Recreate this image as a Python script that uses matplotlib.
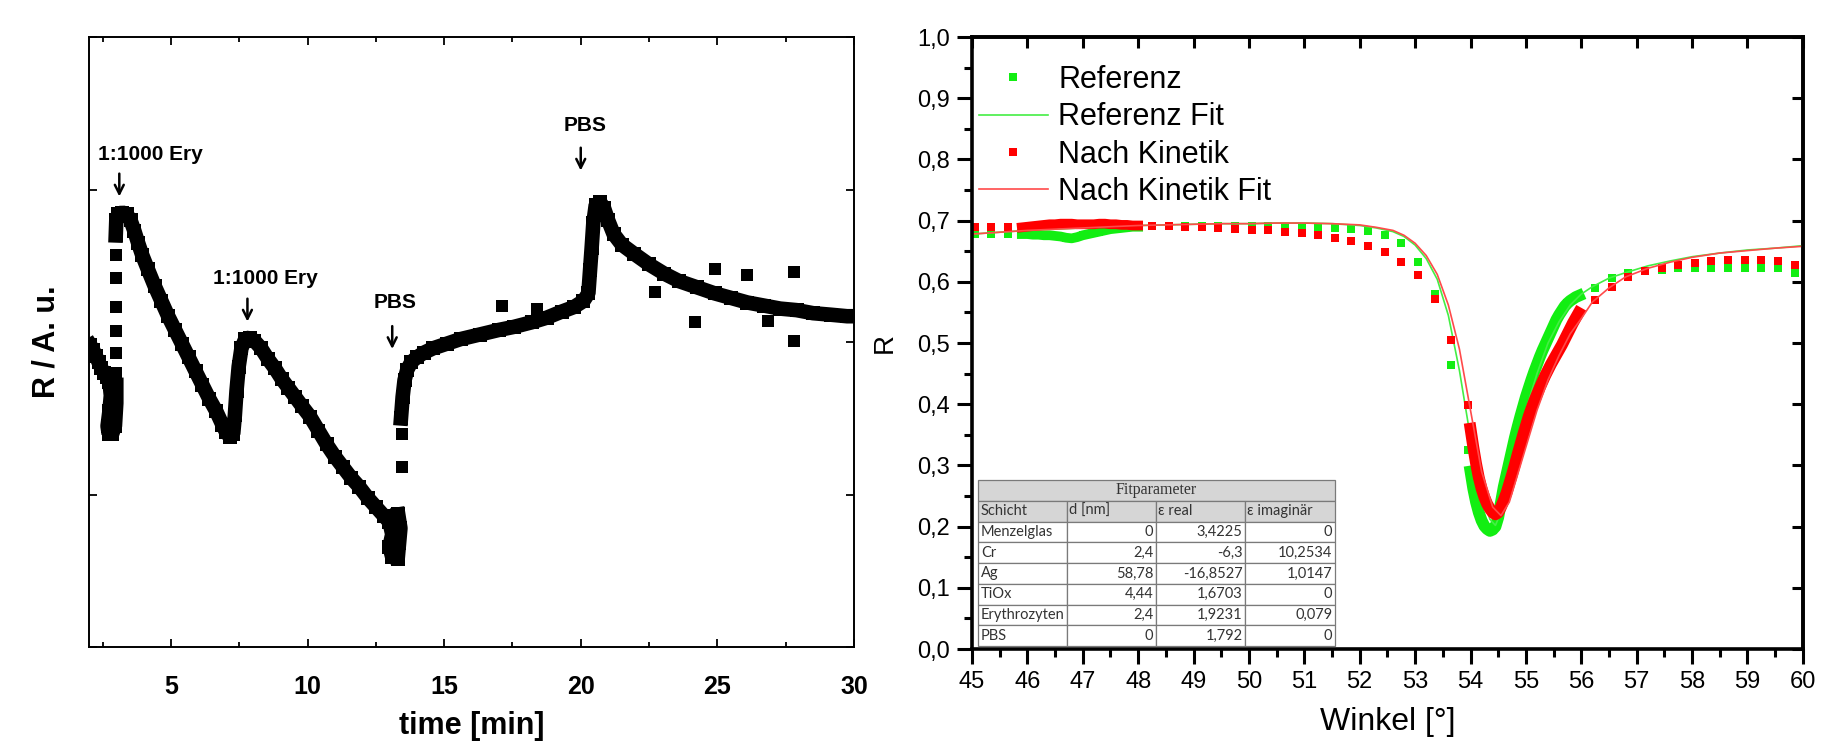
import matplotlib
matplotlib.use('Agg')
import matplotlib.pyplot as plt
from matplotlib.lines import Line2D
from matplotlib.patches import Rectangle
from matplotlib.ticker import MultipleLocator, FuncFormatter, NullLocator

plt.rcParams['font.family'] = ['Liberation Sans', 'DejaVu Sans']

# ---------------- left panel data (time [min], R [a.u.]) ----------------
t_seg1 = [2.05, 2.15, 2.25, 2.35, 2.45, 2.55, 2.65, 2.75, 2.80, 2.75, 2.68, 2.72, 2.85, 2.95, 3.00, 3.00]
r_seg1 = [1.98, 1.95, 1.91, 1.87, 1.83, 1.80, 1.77, 1.74, 1.65, 1.55, 1.45, 1.40, 1.40, 1.45, 1.60, 1.72]
t_jump1 = [2.98, 2.98, 2.98, 2.98, 2.98, 2.98]
r_jump1 = [1.80, 1.93, 2.07, 2.23, 2.42, 2.57]
t_seg2 = [2.98, 3.00, 3.08, 3.22, 3.38, 3.52, 3.66, 3.80, 3.95, 4.15, 4.40, 4.65, 4.90, 5.15, 5.40,
          5.65, 5.90, 6.15, 6.40, 6.65, 6.88, 7.02, 7.15, 7.28, 7.34, 7.40, 7.48, 7.58, 7.72, 7.88,
          8.05, 8.30, 8.55, 8.80, 9.05, 9.30, 9.55, 9.80, 10.10, 10.40, 10.70, 11.00, 11.30, 11.60,
          11.90, 12.20, 12.50, 12.80, 13.00, 13.10, 13.00, 13.10, 13.30, 13.35, 13.40, 13.32]
r_seg2 = [2.70, 2.80, 2.84, 2.85, 2.84, 2.80, 2.73, 2.65, 2.57, 2.48, 2.37, 2.27, 2.17, 2.08, 1.99,
          1.90, 1.81, 1.72, 1.63, 1.55, 1.46, 1.41, 1.38, 1.40, 1.52, 1.68, 1.84, 1.96, 2.02, 2.03,
          2.01, 1.96, 1.89, 1.83, 1.76, 1.70, 1.64, 1.58, 1.51, 1.42, 1.33, 1.25, 1.18, 1.11,
          1.05, 0.98, 0.92, 0.86, 0.82, 0.74, 0.66, 0.59, 0.58, 0.68, 0.78, 0.87]
t_jump2 = [13.45, 13.45]
r_jump2 = [1.18, 1.40]
t_seg3 = [13.42, 13.48, 13.55, 13.65, 13.80, 14.00, 14.25, 14.60, 15.10, 15.60, 16.30, 17.00, 17.55,
          18.20, 18.75, 19.30, 19.75, 20.10, 20.28, 20.34, 20.40, 20.46, 20.55, 20.70, 20.85, 21.00,
          21.20, 21.50, 21.95, 22.50, 23.05, 23.60, 24.25, 24.90, 25.50, 26.10, 26.70, 27.30, 27.90,
          28.50, 29.15, 29.75, 30.00]
r_seg3 = [1.50, 1.64, 1.75, 1.82, 1.87, 1.90, 1.93, 1.96, 1.99, 2.02, 2.05, 2.08, 2.10,
          2.13, 2.16, 2.20, 2.23, 2.27, 2.32, 2.47, 2.62, 2.78, 2.90, 2.92, 2.88, 2.80,
          2.71, 2.64, 2.58, 2.51, 2.45, 2.40, 2.36, 2.32, 2.29, 2.26, 2.24, 2.22, 2.21,
          2.19, 2.18, 2.17, 2.17]
t_out = [17.10, 18.40, 22.70, 24.20, 24.90, 26.10, 26.85, 27.80, 27.80]
r_out = [2.24, 2.22, 2.33, 2.13, 2.48, 2.44, 2.14, 2.46, 2.01]

annot_text = ['1:1000 Ery', '1:1000 Ery', 'PBS', 'PBS']
annot_tx = [4.25, 8.45, 13.20, 20.15]
annot_ty = [3.23, 2.42, 2.26, 3.42]
arrow_x = [3.11, 7.80, 13.10, 20.00]
arrow_y = [3.03, 2.21, 2.03, 3.20]

# ---------------- right panel data (Winkel [deg], R) ----------------
ref_x_sparse = [45.05, 45.35, 45.65, 48.25, 48.55, 48.85, 49.15, 49.45, 49.75, 50.05, 50.35, 50.65,
                50.95, 51.25, 51.55, 51.85, 52.15, 52.45, 52.75, 53.05, 53.35, 53.65, 53.95,
                56.25, 56.55, 56.85, 57.15, 57.45, 57.75, 58.05, 58.35, 58.65, 58.95, 59.25, 59.55, 59.85]
ref_y_sparse = [0.678, 0.678, 0.678, 0.692, 0.692, 0.692, 0.692, 0.692, 0.692, 0.691, 0.691, 0.690,
                0.690, 0.689, 0.688, 0.686, 0.683, 0.677, 0.664, 0.633, 0.580, 0.464, 0.325,
                0.590, 0.606, 0.614, 0.618, 0.620, 0.622, 0.623, 0.623, 0.623, 0.623, 0.623, 0.622, 0.615]
kin_y_sparse = [0.690, 0.690, 0.690, 0.692, 0.691, 0.690, 0.689, 0.688, 0.687, 0.685, 0.684, 0.682,
                0.680, 0.677, 0.672, 0.666, 0.658, 0.648, 0.633, 0.611, 0.572, 0.505, 0.399,
                0.570, 0.592, 0.608, 0.617, 0.622, 0.627, 0.630, 0.634, 0.636, 0.636, 0.636, 0.634, 0.628]

flat_x = [45.9, 46.0, 46.1, 46.2, 46.3, 46.4, 46.5, 46.6, 46.7, 46.8, 46.9, 47.0, 47.1, 47.2,
          47.3, 47.4, 47.5, 47.6, 47.7, 47.8, 47.9, 48.0]
ref_y_flat = [0.678, 0.678, 0.677, 0.677, 0.676, 0.676, 0.675, 0.674, 0.672, 0.671, 0.673, 0.676,
              0.678, 0.680, 0.682, 0.684, 0.686, 0.687, 0.688, 0.689, 0.690, 0.690]
kin_y_flat = [0.689, 0.690, 0.691, 0.692, 0.693, 0.694, 0.694, 0.695, 0.695, 0.695, 0.694, 0.694,
              0.694, 0.694, 0.695, 0.695, 0.694, 0.694, 0.693, 0.693, 0.692, 0.692]

dip_x = [54.00, 54.05, 54.10, 54.15, 54.20, 54.25, 54.30, 54.35, 54.40, 54.45, 54.50, 54.55, 54.60,
         54.65, 54.70, 54.75, 54.80, 54.85, 54.90, 54.95, 55.00, 55.05, 55.10, 55.15, 55.20, 55.25,
         55.30, 55.35, 55.40, 55.45, 55.50, 55.55, 55.60, 55.65, 55.70, 55.75, 55.80, 55.85, 55.90, 55.95]
ref_y_dip = [0.290, 0.262, 0.240, 0.223, 0.210, 0.201, 0.196, 0.193, 0.195, 0.200, 0.215, 0.240, 0.265,
             0.285, 0.305, 0.325, 0.345, 0.363, 0.380, 0.396, 0.412, 0.426, 0.440, 0.453, 0.465, 0.477,
             0.488, 0.498, 0.508, 0.518, 0.528, 0.538, 0.546, 0.553, 0.560, 0.565, 0.569, 0.572, 0.575, 0.577]
kin_y_dip = [0.360, 0.330, 0.303, 0.280, 0.262, 0.248, 0.237, 0.229, 0.223, 0.220, 0.223, 0.232, 0.243,
             0.255, 0.270, 0.285, 0.301, 0.318, 0.334, 0.350, 0.365, 0.380, 0.393, 0.405, 0.416, 0.427,
             0.437, 0.447, 0.456, 0.465, 0.473, 0.481, 0.489, 0.497, 0.506, 0.515, 0.524, 0.533, 0.541, 0.549]

fit_ref_x = [45.0, 45.5, 46.0, 46.5, 47.0, 47.5, 48.0, 48.5, 49.0, 49.5, 50.0, 50.5, 51.0, 51.5, 52.0,
             52.3, 52.6, 52.8, 53.0, 53.2, 53.4, 53.6, 53.8, 54.0, 54.2, 54.35, 54.45, 54.6, 54.8,
             55.0, 55.2, 55.4, 55.6, 55.8, 56.0, 56.2, 56.5, 56.8, 57.2, 57.6, 58.0, 58.5, 59.0, 59.5, 60.0]
fit_ref_y = [0.678, 0.681, 0.684, 0.686, 0.688, 0.690, 0.692, 0.693, 0.694, 0.695, 0.695, 0.696, 0.696,
             0.695, 0.692, 0.688, 0.682, 0.674, 0.660, 0.638, 0.604, 0.545, 0.455, 0.345, 0.255, 0.212,
             0.202, 0.235, 0.310, 0.390, 0.450, 0.500, 0.535, 0.562, 0.580, 0.592, 0.606, 0.615, 0.626,
             0.634, 0.641, 0.647, 0.652, 0.655, 0.659]
fit_kin_x = [45.0, 45.5, 46.0, 46.5, 47.0, 47.5, 48.0, 48.5, 49.0, 49.5, 50.0, 50.5, 51.0, 51.5, 52.0,
             52.3, 52.6, 52.8, 53.0, 53.2, 53.4, 53.6, 53.8, 54.0, 54.2, 54.4, 54.55, 54.7, 54.85,
             55.0, 55.2, 55.4, 55.6, 55.8, 56.0, 56.2, 56.5, 56.8, 57.2, 57.6, 58.0, 58.5, 59.0, 59.5, 60.0]
fit_kin_y = [0.678, 0.681, 0.684, 0.686, 0.688, 0.690, 0.692, 0.693, 0.694, 0.695, 0.695, 0.696, 0.696,
             0.695, 0.693, 0.689, 0.684, 0.676, 0.663, 0.643, 0.612, 0.562, 0.490, 0.390, 0.290, 0.232,
             0.218, 0.240, 0.285, 0.330, 0.390, 0.440, 0.480, 0.515, 0.540, 0.567, 0.590, 0.608, 0.622,
             0.632, 0.640, 0.647, 0.651, 0.655, 0.658]

legend_labels = ['Referenz', 'Referenz Fit', 'Nach Kinetik', 'Nach Kinetik Fit']

tbl_title = 'Fitparameter'
tbl_header = ['Schicht', 'd [nm]', 'ε real', 'ε imaginär']
tbl_layer = ['Menzelglas', 'Cr', 'Ag', 'TiOx', 'Erythrozyten', 'PBS']
tbl_d = ['0', '2,4', '58,78', '4,44', '2,4', '0']
tbl_eps_real = ['3,4225', '-6,3', '-16,8527', '1,6703', '1,9231', '1,792']
tbl_eps_imag = ['0', '10,2534', '1,0147', '0', '0,079', '0']

# ---------------- figure ----------------
fig = plt.figure(figsize=(18.27, 7.43), dpi=100)
ax1 = fig.add_axes([0.0487, 0.129, 0.4187, 0.821])
ax2 = fig.add_axes([0.532, 0.1265, 0.4548, 0.8237])

# left panel
MS = 10.5
band = dict(color='black', lw=MS, solid_joinstyle='bevel', solid_capstyle='projecting',
            marker='s', ms=MS, mew=0)
for tx, ry in [(t_seg1, r_seg1), (t_seg2, r_seg2), (t_seg3, r_seg3)]:
    ax1.plot(tx, ry, **band)
for tx, ry in [(t_jump1, r_jump1), (t_jump2, r_jump2), (t_out, r_out)]:
    ax1.plot(tx, ry, ls='none', marker='s', ms=9.2, mew=0, color='black')

for s, x, y in zip(annot_text, annot_tx, annot_ty):
    ax1.text(x, y, s, ha='center', va='center', fontsize=15, fontweight='bold')
half = 0.075
for x, y in zip(arrow_x, arrow_y):
    ax1.annotate('', xy=(x, y - half), xytext=(x, y + half),
                 arrowprops=dict(arrowstyle='->', lw=1.8, color='black',
                                 mutation_scale=16, shrinkA=0, shrinkB=0))

ax1.set_xlim(2, 30)
ax1.set_ylim(0, 4)
ax1.xaxis.set_major_locator(MultipleLocator(5))
ax1.xaxis.set_minor_locator(MultipleLocator(2.5))
ax1.yaxis.set_major_locator(MultipleLocator(1))
ax1.yaxis.set_minor_locator(NullLocator())
ax1.tick_params(which='both', direction='in', top=True, right=True, labelleft=False,
                width=1.3, labelsize=18, pad=20)
ax1.tick_params(which='major', length=6)
ax1.tick_params(which='minor', length=3.5)
for lab in ax1.get_xticklabels():
    lab.set_fontweight('bold')
for sp in ax1.spines.values():
    sp.set_linewidth(1.4)
ax1.set_xlabel('time [min]', fontsize=22, fontweight='bold', labelpad=9)
ax1.set_ylabel('R / A. u.', fontsize=22, fontweight='bold', labelpad=20)

# right panel
GREEN = '#12ee12'
RED = '#ff0000'
GREEN_FIT = '#44ee44'
RED_FIT = '#ff4a4a'
ms2 = 5.6
dense = dict(lw=8.5, solid_joinstyle='round', solid_capstyle='projecting', marker='s', ms=ms2, mew=0)

ax2.plot(ref_x_sparse, ref_y_sparse, ls='none', marker='s', ms=ms2, mew=0, color=GREEN)
ax2.plot(flat_x, ref_y_flat, color=GREEN, **dict(dense, lw=7))
ax2.plot(dip_x, ref_y_dip, color=GREEN, **dense)
ax2.plot(fit_ref_x, fit_ref_y, color=GREEN_FIT, lw=1.2)
ax2.plot(ref_x_sparse, kin_y_sparse, ls='none', marker='s', ms=ms2, mew=0, color=RED)
ax2.plot(flat_x, kin_y_flat, color=RED, **dict(dense, lw=7))
ax2.plot(dip_x, kin_y_dip, color=RED, **dense)
ax2.plot(fit_kin_x, fit_kin_y, color=RED_FIT, lw=1.2)

ax2.set_xlim(45, 60)
ax2.set_ylim(0, 1)
ax2.xaxis.set_major_locator(MultipleLocator(1))
ax2.xaxis.set_minor_locator(MultipleLocator(0.5))
ax2.yaxis.set_major_locator(MultipleLocator(0.1))
ax2.yaxis.set_minor_locator(MultipleLocator(0.05))
ax2.yaxis.set_major_formatter(FuncFormatter(lambda v, p: f'{v:.1f}'.replace('.', ',')))
ax2.xaxis.set_major_formatter(FuncFormatter(lambda v, p: f'{v:.0f}'))
ax2.tick_params(which='both', direction='out', labelsize=17, width=2.2)
ax2.tick_params(which='major', length=11, pad=5)
ax2.tick_params(which='minor', length=6)
for sp in ax2.spines.values():
    sp.set_linewidth(2.6)
sec_top = ax2.secondary_xaxis('top')
sec_top.xaxis.set_major_locator(MultipleLocator(1))
sec_top.tick_params(direction='in', length=8, width=2.2, labeltop=False)
sec_top.spines['top'].set_linewidth(2.6)
sec_right = ax2.secondary_yaxis('right')
sec_right.yaxis.set_major_locator(MultipleLocator(0.1))
sec_right.tick_params(direction='in', length=8, width=2.2, labelright=False)
sec_right.spines['right'].set_linewidth(2.6)

ax2.set_xlabel('Winkel [°]', fontsize=23, labelpad=10)
ax2.set_ylabel('R', fontsize=20, labelpad=14)

handles = [Line2D([], [], ls='none', marker='s', ms=ms2, mew=0, color=GREEN),
           Line2D([], [], color=GREEN_FIT, lw=1.2),
           Line2D([], [], ls='none', marker='s', ms=ms2, mew=0, color=RED),
           Line2D([], [], color=RED_FIT, lw=1.2)]
ax2.legend(handles, legend_labels, loc='upper left', bbox_to_anchor=(0.0084, 0.954),
           frameon=False, fontsize=22, handlelength=2.25, handletextpad=0.35,
           labelspacing=0.24, borderaxespad=0, borderpad=0)

# table (axes coordinates)
col_edges = [0.0076, 0.1140, 0.2214, 0.3285, 0.4368]
tbl_top, tbl_bot = 0.2761, 0.0049
nrows = 8
rh = (tbl_top - tbl_bot) / nrows
tfont = dict(fontsize=10.5, color='#333333', family=['Lato', 'DejaVu Sans'])
edge = '#7a7a7a'
tr = ax2.transAxes
y0 = tbl_top - rh
ax2.add_patch(Rectangle((col_edges[0], y0), col_edges[-1] - col_edges[0], rh, transform=tr,
                        facecolor='#d6d6d6', edgecolor=edge, lw=0.9, zorder=5))
ax2.text((col_edges[0] + col_edges[-1]) / 2, y0 + rh / 2, tbl_title, transform=tr, ha='center',
         va='center', zorder=6, fontsize=11.5, color='#333333', family=['Liberation Serif'])
rows = [tbl_header] + [list(r) for r in zip(tbl_layer, tbl_d, tbl_eps_real, tbl_eps_imag)]
for i, row in enumerate(rows):
    yb = tbl_top - (i + 2) * rh
    fc = '#d6d6d6' if i == 0 else 'white'
    for j, val in enumerate(row):
        xl, xr = col_edges[j], col_edges[j + 1]
        ax2.add_patch(Rectangle((xl, yb), xr - xl, rh, transform=tr, facecolor=fc,
                                edgecolor=edge, lw=0.9, zorder=5))
        if i == 0 or j == 0:
            ax2.text(xl + 0.003, yb + rh / 2, val, transform=tr, ha='left', va='center',
                     zorder=6, **tfont)
        else:
            ax2.text(xr - 0.003, yb + rh / 2, val, transform=tr, ha='right', va='center',
                     zorder=6, **tfont)

fig.savefig('out.png', dpi=100)
